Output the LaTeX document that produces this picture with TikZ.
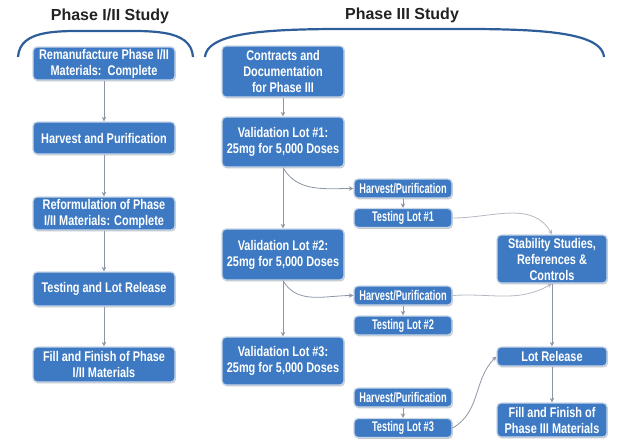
\documentclass[tikz,border=0pt]{standalone}
\usepackage{fontspec}
\setmainfont{Liberation Sans}
\newfontfamily\boxfont{Liberation Sans}[FakeStretch=0.78]
\newfontfamily\smallboxfont{Liberation Sans}[FakeStretch=0.66]
\usetikzlibrary{arrows.meta,shadows}
\definecolor{boxblue}{HTML}{3D7AC3}
\definecolor{boxedge}{HTML}{C9D6E8}
\definecolor{arcblue}{HTML}{2E5E99}
\definecolor{arrowgray}{HTML}{8E96A6}
\definecolor{lightgray}{HTML}{B4B9C2}
\definecolor{titlecol}{HTML}{222222}
\begin{document}
\begin{tikzpicture}[x=1pt,y=1pt,
  box/.style={draw=boxedge, line width=1.3pt, fill=boxblue, rounded corners=4pt,
    text=white, font=\boxfont\bfseries\fontsize{14}{16}\selectfont, align=center,
    inner sep=0pt,
    drop shadow={shadow xshift=0.8pt, shadow yshift=-1.3pt, opacity=0.22, fill=black}},
  lbox/.style={box, minimum width=142pt},
  pbox/.style={box, minimum width=122pt},
  sbox/.style={box, minimum width=98pt, minimum height=19pt,
    font=\smallboxfont\bfseries\fontsize{14}{16}\selectfont},
  rbox/.style={box, minimum width=110pt},
  arr/.style={draw=arrowgray, line width=0.8pt, -{Stealth[length=4.5pt,width=4.5pt]}},
  farr/.style={draw=lightgray, line width=0.8pt, -{Stealth[length=4.5pt,width=4.5pt]}},
  brace/.style={draw=arcblue, line width=2.2pt},
  title/.style={font=\bfseries\fontsize{16}{18}\selectfont, text=titlecol}
]
\useasboundingbox (0,0) rectangle (621,-445);

% titles
\node[title] (t1) at (110,-16) {Phase I/II Study};
\node[title] (t2) at (402,-15) {Phase III Study};

% braces
\draw[brace] (18,-57) .. controls (20,-28) and (60,-31) .. (105,-31)
  .. controls (150,-31) and (191,-28) .. (193,-57);
\draw[brace] (205,-57) .. controls (208,-26) and (300,-29) .. (404,-29)
  .. controls (508,-29) and (601,-26) .. (604,-57);

% left column
\node[lbox, minimum height=33pt] (l1) at (104,-63.5) {Remanufacture Phase I/II\\Materials:\ \ Complete};
\node[lbox, minimum height=32pt] (l2) at (104,-138) {Harvest and Purification};
\node[lbox, minimum height=33pt] (l3) at (104,-213.5) {Reformulation of Phase\\I/II Materials: Complete};
\node[lbox, minimum height=34pt] (l4) at (104,-289) {Testing and Lot Release};
\node[lbox, minimum height=35pt] (l5) at (104,-364.5) {Fill and Finish of Phase\\I/II Materials};

\draw[arr] (l1) -- (l2);
\draw[arr] (l2) -- (l3);
\draw[arr] (l3) -- (l4);
\draw[arr] (l4) -- (l5);

% phase III main column
\node[pbox, minimum height=51pt] (c1) at (283,-71.5) {Contracts and\\Documentation\\for Phase III};
\node[pbox, minimum height=50pt] (v1) at (283,-142) {Validation Lot \#1:\\25mg for 5,000 Doses};
\node[pbox, minimum height=51pt] (v2) at (283,-254.5) {Validation Lot \#2:\\25mg for 5,000 Doses};
\node[pbox, minimum height=48pt] (v3) at (283,-361) {Validation Lot \#3:\\25mg for 5,000 Doses};

% small boxes
\node[sbox] (h1) at (403,-188.5) {Harvest/Purification};
\node[sbox] (s1) at (403,-218) {Testing Lot \#1};
\node[sbox] (h2) at (403,-295.5) {Harvest/Purification};
\node[sbox] (s2) at (403,-325.5) {Testing Lot \#2};
\node[sbox] (h3) at (403,-397.5) {Harvest/Purification};
\node[sbox] (s3) at (403,-428) {Testing Lot \#3};

% right column
\node[rbox, minimum height=48pt] (st) at (552,-259) {Stability Studies,\\References \&\\Controls};
\node[rbox, minimum height=19pt] (lr) at (552,-356.5) {Lot Release};
\node[rbox, minimum height=34pt] (ff) at (552,-420) {Fill and Finish of\\Phase III Materials};

% connectors
\draw[arr] (c1) -- (v1);
\draw[arr] (v1) -- (v2);
\draw[arr] (v2) -- (v3);
\draw[arr] (v1.south) to[out=-60,in=180] (h1.west);
\draw[arr] (v2.south) to[out=-60,in=180] (h2.west);
\draw[arr] (h1) -- (s1);
\draw[arr] (h2) -- (s2);
\draw[arr] (h3) -- (s3);
\draw[farr] (s1.east) to[out=0,in=120] (st.north);
\draw[farr] (h2.east) to[out=4,in=-150] (st.south);
\draw[arr] (st) -- (lr);
\draw[arr] (lr) -- (ff);
\draw[arr] (s3.east) to[out=30,in=225] (lr.west);
\end{tikzpicture}
\end{document}
